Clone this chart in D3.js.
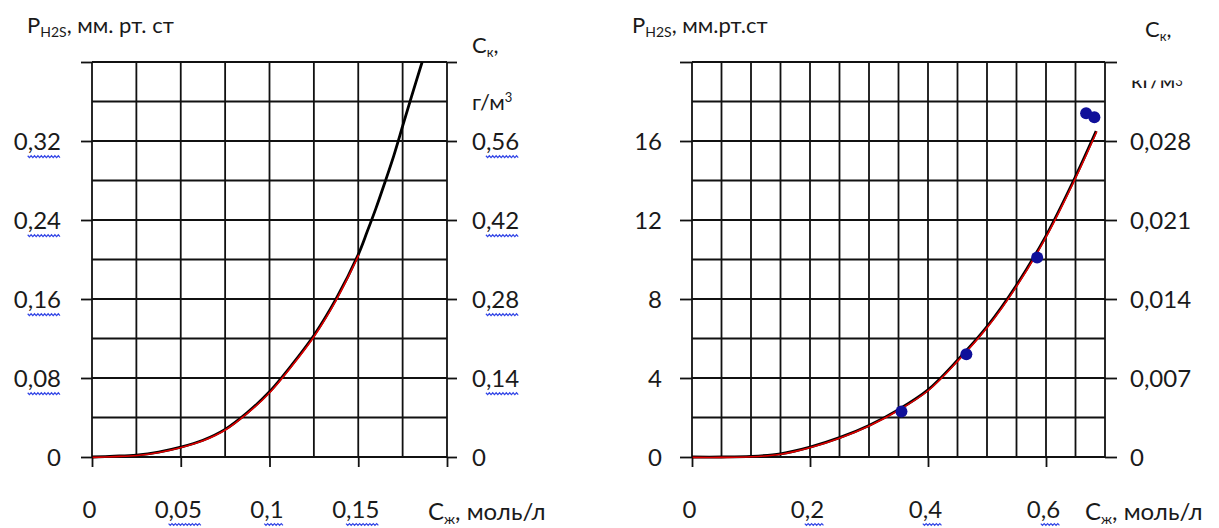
<!DOCTYPE html>
<html>
<head>
<meta charset="utf-8">
<script src="https://cdn.jsdelivr.net/npm/d3@7"></script>
<style>
  body { margin: 0; background: #fff; }
  svg { display: block; font-family: Lato, "Open Sans", sans-serif; }
  .lbl { font-size: 24px; fill: #1a1a1a; }
  .ttl { font-size: 22px; fill: #1a1a1a; }
</style>
</head>
<body>
<div id="chart"></div>
<script>
// left panel: P(H2S) vs concentration, low range
let leftConc  = [0, 0.0125, 0.025, 0.0375, 0.05, 0.0625, 0.075, 0.0875, 0.1, 0.1125, 0.125, 0.1375, 0.15,
                 0.155, 0.16, 0.165, 0.17, 0.175, 0.18, 0.186];
let leftPress = [0, 0.0008, 0.002, 0.005, 0.01, 0.017, 0.028, 0.045, 0.066, 0.093, 0.123, 0.16, 0.205,
                 0.228, 0.252, 0.278, 0.305, 0.335, 0.365, 0.40];
let leftRedEnd = 0.15;

let leftYTicks = [0, 0.08, 0.16, 0.24, 0.32, 0.4];
let leftYLabels = ["0", "0,08", "0,16", "0,24", "0,32", ""];
let leftY2Labels = ["0", "0,14", "0,28", "0,42", "0,56", ""];
let leftXTicks = [0, 0.05, 0.1, 0.15, 0.2];
let leftXLabels = ["0", "0,05", "0,1", "0,15", ""];

// right panel: wider range with measured points
let rightConc  = [0, 0.05, 0.1, 0.15, 0.2, 0.25, 0.3, 0.35, 0.4, 0.45, 0.5, 0.55, 0.6, 0.65, 0.685];
let rightPress = [0, 0, 0.03, 0.16, 0.5, 0.98, 1.6, 2.4, 3.4, 4.9, 6.6, 8.7, 11.2, 14.2, 16.5];
let pointConc  = [0.355, 0.465, 0.585, 0.668, 0.682];
let pointPress = [2.3, 5.2, 10.1, 17.4, 17.2];

let rightYTicks = [0, 4, 8, 12, 16, 20];
let rightYLabels = ["0", "4", "8", "12", "16", ""];
let rightY2Labels = ["0", "0,007", "0,014", "0,021", "0,028", ""];
let rightXTicks = [0, 0.2, 0.4, 0.6];
let rightXLabels = ["0", "0,2", "0,4", "0,6"];

let width = 1219, height = 528;
let plotTop = 62, plotBottom = 457;

let svg = d3.select("#chart")
    .append("svg")
    .attr("width", width)
    .attr("height", height);

// the unit text of the right panel is cut off at the top in the original
svg.append("defs").append("clipPath")
    .attr("id", "unitClip")
    .append("rect")
    .attr("x", 1100).attr("y", 80.5).attr("width", 110).attr("height", 30);

let line = d3.line().curve(d3.curveCatmullRom.alpha(0.5));

// wavy spell-check underline under the part after "0"
function squiggle(g, x0, x1, y) {
    let pts = [];
    for (let x = x0, k = 0; x <= x1; x += 1.7, k++) {
        pts.push([x, y + (k % 2 ? 1.4 : -0.4)]);
    }
    g.append("path")
        .attr("d", d3.line()(pts))
        .attr("fill", "none")
        .attr("stroke", "#3346e6")
        .attr("stroke-width", 1.2);
}

function addSquiggles(sel) {
    sel.each(function () {
        let t = this.textContent;
        if (t.indexOf(",") < 0 || t.split(",")[1].length > 2) return;
        let b = this.getBBox();
        let m = this.getCTM();
        let zero = this.getSubStringLength(0, 1);
        let x0 = m.e + b.x + zero, x1 = m.e + b.x + b.width;
        squiggle(svg, x0, x1, m.f + b.y + b.height + 1);
    });
}

function panel(p) {
    let x = d3.scaleLinear().domain(p.xDomain).range([p.x0, p.x1]);
    let y = d3.scaleLinear().domain(p.yDomain).range([plotBottom, plotTop]);
    let g = svg.append("g");

    // grid
    g.selectAll(".vg")
        .data(d3.range(0, p.xCount + 1).map(i => i * p.xStep))
        .join("line")
        .attr("x1", d => x(d)).attr("x2", d => x(d))
        .attr("y1", plotTop).attr("y2", plotBottom)
        .attr("stroke", "#111").attr("stroke-width", 1.8);
    g.selectAll(".hg")
        .data(d3.range(0, p.yCount + 1).map(i => i * p.yStep))
        .join("line")
        .attr("x1", p.x0).attr("x2", p.x1)
        .attr("y1", d => y(d)).attr("y2", d => y(d))
        .attr("stroke", "#111").attr("stroke-width", 1.8);

    // axes
    let yl = g.append("g").attr("transform", `translate(${p.x0},0)`)
        .call(d3.axisLeft(y).tickValues(p.yTicks).tickSize(p.tickL)
            .tickPadding(p.padL).tickFormat((d, i) => p.yLabels[i]));
    let yr = g.append("g").attr("transform", `translate(${p.x1},0)`)
        .call(d3.axisRight(y).tickValues(p.yTicks).tickSize(p.tickR)
            .tickPadding(p.padR).tickFormat((d, i) => p.y2Labels[i]));
    let xb = g.append("g").attr("transform", `translate(0,${plotBottom})`)
        .call(d3.axisBottom(x).tickValues(p.xTicks).tickSize(10)
            .tickPadding(34).tickFormat((d, i) => p.xLabels[i]));

    [yl, yr, xb].forEach(a => {
        a.attr("font-family", null).attr("font-size", null);
        a.select(".domain").remove();
        a.selectAll(".tick line").attr("stroke", "#111").attr("stroke-width", 1.8);
        a.selectAll(".tick text").attr("class", "lbl");
    });
    yl.selectAll(".tick text").attr("dy", "0.36em");
    yr.selectAll(".tick text").attr("dy", "0.36em");
    xb.selectAll(".tick text").attr("dx", -3);

    addSquiggles(yl.selectAll(".tick text"));
    addSquiggles(yr.selectAll(".tick text"));
    addSquiggles(xb.selectAll(".tick text"));

    // curves: black underneath, red on top
    let pts = p.conc.map((c, i) => [x(c), y(p.press[i])]);
    g.append("path").attr("d", line(pts))
        .attr("fill", "none").attr("stroke", "#000").attr("stroke-width", 2.8);
    let redPts = pts.filter((d, i) => p.conc[i] <= p.redEnd + 1e-9);
    g.append("path").attr("d", line(redPts))
        .attr("fill", "none").attr("stroke", "#e00000").attr("stroke-width", 1.6)
        .attr("transform", "translate(0.6,0.4)");

    if (p.pConc) {
        g.selectAll(".pt")
            .data(p.pConc)
            .join("circle")
            .attr("cx", d => x(d))
            .attr("cy", (d, i) => y(p.pPress[i]))
            .attr("r", 6)
            .attr("fill", "#10109a");
    }

    // titles
    let t = svg.append("text").attr("class", "ttl").attr("x", p.titleX).attr("y", 33);
    t.append("tspan").text("P");
    t.append("tspan").attr("font-size", 14).attr("dy", 4).text("H2S");
    t.append("tspan").attr("dy", -4).text(p.titleRest);

    let c = svg.append("text").attr("class", "ttl").attr("x", p.ckX).attr("y", p.ckY);
    c.append("tspan").text("C");
    c.append("tspan").attr("font-size", 13).attr("dy", 4).text("к");
    c.append("tspan").attr("dy", -4).text(",");

    let u = svg.append("text").attr("class", "ttl").attr("x", p.unitX).attr("y", p.unitY);
    if (p.unitClip) u.attr("clip-path", "url(#unitClip)");
    u.append("tspan").text(p.unit);
    u.append("tspan").attr("font-size", 13).attr("dy", p.supDy).text("3");

    let xl = svg.append("text").attr("class", "lbl").attr("x", p.xUnitX).attr("y", plotBottom + 63);
    xl.append("tspan").text("C");
    xl.append("tspan").attr("font-size", 14).attr("dy", 4).text("ж");
    xl.append("tspan").attr("dy", -4).text(", моль/л");
}

panel({
    x0: 92, x1: 447, xDomain: [0, 0.2], yDomain: [0, 0.4],
    xStep: 0.025, xCount: 8, yStep: 0.04, yCount: 10,
    yTicks: leftYTicks, yLabels: leftYLabels, y2Labels: leftY2Labels,
    xTicks: leftXTicks, xLabels: leftXLabels,
    tickL: 11, padL: 20, tickR: 10, padR: 15,
    conc: leftConc, press: leftPress, redEnd: leftRedEnd,
    titleX: 27, titleRest: ", мм. рт. ст",
    ckX: 472, ckY: 53, unit: "г/м", unitX: 472, unitY: 110, supDy: -8,
    xUnitX: 428
});

panel({
    x0: 692, x1: 1105, xDomain: [0, 0.7], yDomain: [0, 20],
    xStep: 0.05, xCount: 14, yStep: 2, yCount: 10,
    yTicks: rightYTicks, yLabels: rightYLabels, y2Labels: rightY2Labels,
    xTicks: rightXTicks, xLabels: rightXLabels,
    tickL: 12, padL: 18, tickR: 12, padR: 13,
    conc: rightConc, press: rightPress, redEnd: 0.7,
    pConc: pointConc, pPress: pointPress,
    titleX: 632, titleRest: ", мм.рт.ст",
    ckX: 1145, ckY: 37, unit: "кг/м", unitX: 1131, unitY: 88, supDy: -2, unitClip: true,
    xUnitX: 1085
});
</script>
</body>
</html>
